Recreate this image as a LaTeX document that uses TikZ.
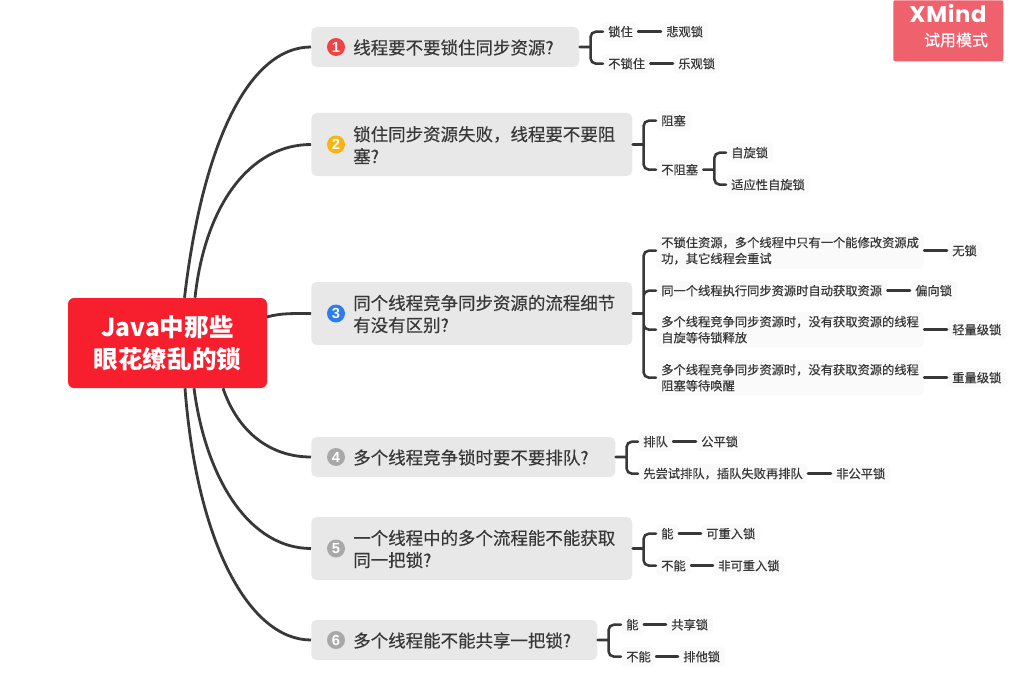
\documentclass[tikz,border=0pt]{standalone}
\usepackage{fontspec}
\setmainfont{Noto Sans CJK SC}[FakeBold=0.35]
\newfontfamily\numfont{Liberation Sans}
\newfontfamily\logofont{Poppins}[LetterSpace=3]
\newfontfamily\plainfont{Noto Sans CJK SC}
\definecolor{ink}{HTML}{383838}
\definecolor{topicbg}{HTML}{E8E8E8}
\definecolor{leafbg}{HTML}{FAFAFA}
\definecolor{rootred}{HTML}{F71F2E}
\definecolor{badgered}{HTML}{F0616E}
\definecolor{iconred}{HTML}{F04343}
\definecolor{iconorange}{HTML}{FBB314}
\definecolor{iconblue}{HTML}{2D7CF0}
\definecolor{icongrey}{HTML}{A8A8A8}
\tikzset{
  x=0.75pt,y=-0.75pt,
  rootbox/.style={fill=rootred,rounded corners=4.5pt,minimum width=149.25pt,minimum height=67.5pt,inner sep=0pt,text=white,align=center,font=\fontsize{18.4pt}{23.8pt}\plainfont\bfseries},
  topicbox/.style={fill=topicbg,rounded corners=4pt,anchor=west,inner sep=0pt},
  topictext/.style={anchor=west,inner sep=0pt,yshift=-0.4pt,text=ink,align=left,font=\fontsize{13.1pt}{16.6pt}\selectfont},
  badgeicon/.style={circle,minimum size=13.5pt,inner sep=0pt,text=white,font=\fontsize{11pt}{11pt}\numfont\bfseries},
  leaf/.style={fill=leafbg,rounded corners=3pt,anchor=west,inner xsep=3.75pt,inner ysep=3pt,yshift=-0.5pt,text=ink,align=left,font=\fontsize{9.2pt}{12pt}\selectfont},
  conn/.style={draw=ink,line width=1.9pt,line cap=round},
  curve/.style={draw=ink,line width=2.1pt},
  brk/.style={to path={(\tikztostart) -- ++(11,0) ++(0,0) |- (\tikztotarget)}},
  bracket/.style={conn,rounded corners=4pt},
}
\begin{document}
\begin{tikzpicture}
\useasboundingbox (0,0) rectangle (1022,692);
% badge
\node[fill=badgered,rounded corners=1.5pt,anchor=north west,minimum width=82.5pt,minimum height=45.75pt,inner sep=0pt] (badge) at (893,0) {};
\node[text=white,inner sep=0pt,font=\fontsize{17pt}{17pt}\logofont\bfseries] (xm) at (948,14) {XMind};
\node[text=white,inner sep=0pt,font=\fontsize{12pt}{12pt}\selectfont] (trial) at (956,40) {试用模式};
% topics
\node[topicbox,minimum width=201pt,minimum height=30pt] (t1) at (311,47) {};
\node[topicbox,minimum width=240.75pt,minimum height=47.25pt] (t2) at (311,144.5) {};
\node[topicbox,minimum width=240.75pt,minimum height=47.25pt] (t3) at (311,313.5) {};
\node[topicbox,minimum width=228pt,minimum height=30pt] (t4) at (311,457) {};
\node[topicbox,minimum width=240.75pt,minimum height=47.25pt] (t5) at (311,548.5) {};
\node[topicbox,minimum width=214.5pt,minimum height=30pt] (t6) at (311,640) {};
\node[topictext] (tt1) at (353,47) {线程要不要锁住同步资源?};
\node[topictext] (tt2) at (353,144.5) {锁住同步资源失败，线程要不要阻\\塞?};
\node[topictext] (tt3) at (353,313.5) {同个线程竞争同步资源的流程细节\\有没有区别?};
\node[topictext] (tt4) at (353,457) {多个线程竞争锁时要不要排队?};
\node[topictext] (tt5) at (353,548.5) {一个线程中的多个流程能不能获取\\同一把锁?};
\node[topictext] (tt6) at (353,640) {多个线程能不能共享一把锁?};
\node[badgeicon,fill=iconred] (i1) at (336,47) {1};
\node[badgeicon,fill=iconorange] (i2) at (336,144.5) {2};
\node[badgeicon,fill=iconblue] (i3) at (336,313.5) {3};
\node[badgeicon,fill=icongrey] (i4) at (336,457) {4};
\node[badgeicon,fill=icongrey] (i5) at (336,548.5) {5};
\node[badgeicon,fill=icongrey] (i6) at (336,640) {6};
% root
\node[rootbox] (root) at (167.5,343) {\raisebox{-1pt}{Java中那些}\\\raisebox{-1pt}{眼花缭乱的锁}};
% root anchors for curves
\coordinate (ra) at (root.north -| 184.5,0);
\coordinate (rb) at (root.north -| 195,0);
\coordinate (rc) at (root.south -| 185,0);
\coordinate (rd) at (root.south -| 194,0);
\coordinate (re) at (root.south -| 223,0);
\coordinate (rf) at (267,317);
\draw[curve] (ra) .. controls (203,140) and (250,47) .. (t1.west);
\draw[curve] (rb) .. controls (205,205) and (250,144.5) .. (t2.west);
\draw[curve] (rf) .. controls (280,313) and (295,313.5) .. (t3.west);
\draw[curve] (re) .. controls (238,432) and (270,457) .. (t4.west);
\draw[curve] (rd) .. controls (206,480) and (250,548.5) .. (t5.west);
\draw[curve] (rc) .. controls (197,545) and (250,640) .. (t6.west);
% leaves
\node[leaf] (a1) at (603,31) {锁住};
\node[leaf] (a2) at (661,31) {悲观锁};
\node[leaf] (a3) at (603,63) {不锁住};
\node[leaf] (a4) at (673,63) {乐观锁};
\node[leaf] (b1) at (656,120) {阻塞};
\node[leaf] (b2) at (656,169) {不阻塞};
\node[leaf] (b3) at (726,152) {自旋锁};
\node[leaf] (b4) at (726,184) {适应性自旋锁};
\node[leaf] (c1) at (656,250) {不锁住资源，多个线程中只有一个能修改资源成\\功，其它线程会重试};
\node[leaf] (c2) at (947,250) {无锁};
\node[leaf] (c3) at (656,290) {同一个线程执行同步资源时自动获取资源};
\node[leaf] (c4) at (910,290) {偏向锁};
\node[leaf] (c5) at (656,329) {多个线程竞争同步资源时，没有获取资源的线程\\自旋等待锁释放};
\node[leaf] (c6) at (947,329) {轻量级锁};
\node[leaf] (c7) at (656,377) {多个线程竞争同步资源时，没有获取资源的线程\\阻塞等待唤醒};
\node[leaf] (c8) at (947,377) {重量级锁};
\node[leaf] (d1) at (638,441) {排队};
\node[leaf] (d2) at (696,441) {公平锁};
\node[leaf] (d3) at (638,473) {先尝试排队，插队失败再排队};
\node[leaf] (d4) at (831,473) {非公平锁};
\node[leaf] (e1) at (656,533) {能};
\node[leaf] (e2) at (701,533) {可重入锁};
\node[leaf] (e3) at (656,565) {不能};
\node[leaf] (e4) at (713,565) {非可重入锁};
\node[leaf] (f1) at (621,624) {能};
\node[leaf] (f2) at (666,624) {共享锁};
\node[leaf] (f3) at (621,656) {不能};
\node[leaf] (f4) at (678,656) {排他锁};
% brackets
\draw[bracket] (t1.east) to[brk] (a1.west) (t1.east) to[brk] (a3.west);
\draw[bracket] (t2.east) to[brk] (b1.west) (t2.east) to[brk] (b2.west);
\draw[bracket] (b2.east) to[brk] (b3.west) (b2.east) to[brk] (b4.west);
\draw[bracket] (t3.east) to[brk] (c1.west) (t3.east) to[brk] (c3.west) (t3.east) to[brk] (c5.west) (t3.east) to[brk] (c7.west);
\draw[bracket] (t4.east) to[brk] (d1.west) (t4.east) to[brk] (d3.west);
\draw[bracket] (t5.east) to[brk] (e1.west) (t5.east) to[brk] (e3.west);
\draw[bracket] (t6.east) to[brk] (f1.west) (t6.east) to[brk] (f3.west);
% straight links
\draw[conn] (a1) -- (a2);
\draw[conn] (a3) -- (a4);
\draw[conn] (c1.east) -- (c2.west);
\draw[conn] (c3) -- (c4);
\draw[conn] (c5.east) -- (c6.west);
\draw[conn] (c7.east) -- (c8.west);
\draw[conn] (d1) -- (d2);
\draw[conn] (d3) -- (d4);
\draw[conn] (e1) -- (e2);
\draw[conn] (e3) -- (e4);
\draw[conn] (f1) -- (f2);
\draw[conn] (f3) -- (f4);
\end{tikzpicture}
\end{document}
